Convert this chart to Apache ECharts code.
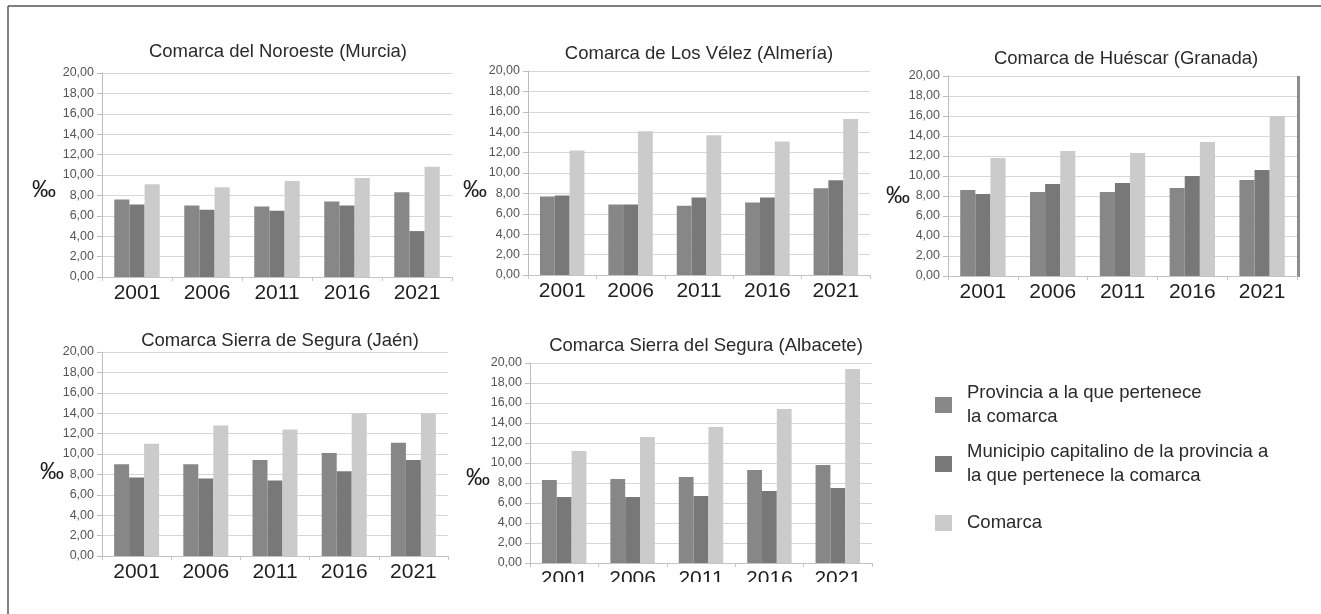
<!DOCTYPE html>
<html>
<head>
<meta charset="utf-8">
<script src="https://cdn.jsdelivr.net/npm/echarts@6/dist/echarts.min.js"></script>
<style>
  html, body { margin: 0; padding: 0; background: #fff; }
  #chart { width: 1321px; height: 614px; }
</style>
</head>
<body>
<div id="chart"></div>
<script>
const years = ['2001', '2006', '2011', '2016', '2021'];
const seriesNames = [
    'Provincia a la que pertenece la comarca',
    'Municipio capitalino de la provincia a la que pertenece la comarca',
    'Comarca'
];
const titles = [
    'Comarca del Noroeste (Murcia)',
    'Comarca de Los Vélez (Almería)',
    'Comarca de Huéscar (Granada)',
    'Comarca Sierra de Segura (Jaén)',
    'Comarca Sierra del Segura (Albacete)'
];

// provincia, capital, comarca for each panel
const murciaProv = [7.6, 7.0, 6.9, 7.4, 8.3];
const murciaCap = [7.1, 6.6, 6.5, 7.0, 4.5];
const murciaCom = [9.1, 8.8, 9.4, 9.7, 10.8];

const almeriaProv = [7.7, 6.9, 6.8, 7.1, 8.5];
const almeriaCap = [7.8, 6.9, 7.6, 7.6, 9.3];
const almeriaCom = [12.2, 14.1, 13.7, 13.1, 15.3];

const granadaProv = [8.6, 8.4, 8.4, 8.8, 9.6];
const granadaCap = [8.2, 9.2, 9.3, 10.0, 10.6];
const granadaCom = [11.8, 12.5, 12.3, 13.4, 16.0];

const jaenProv = [9.0, 9.0, 9.4, 10.1, 11.1];
const jaenCap = [7.7, 7.6, 7.4, 8.3, 9.4];
const jaenCom = [11.0, 12.8, 12.4, 14.0, 14.0];

const albaceteProv = [8.3, 8.4, 8.6, 9.3, 9.8];
const albaceteCap = [6.6, 6.6, 6.7, 7.2, 7.5];
const albaceteCom = [11.2, 12.6, 13.6, 15.4, 19.4];

const panels = [
    [murciaProv, murciaCap, murciaCom],
    [almeriaProv, almeriaCap, almeriaCom],
    [granadaProv, granadaCap, granadaCom],
    [jaenProv, jaenCap, jaenCom],
    [albaceteProv, albaceteCap, albaceteCom]
];

const colors = ['#878787', '#787878', '#cbcbcb'];

const grids = [
    { left: 102, top: 73, width: 350, height: 204 },
    { left: 528, top: 71, width: 342, height: 204 },
    { left: 948, top: 76, width: 349, height: 200 },
    { left: 102, top: 352, width: 346, height: 204 },
    { left: 530, top: 363, width: 342, height: 200 }
];
const titlePos = [[273, 37], [694, 39], [1121, 44], [275, 326], [701, 331]];
const permilPos = [[44, 190], [475, 190], [898, 196], [52, 472], [478, 478]];

const fmt = v => v.toFixed(2).replace('.', ',');

const chart = echarts.init(document.getElementById('chart'));

const series = [];
panels.forEach((vals, i) => {
    vals.forEach((data, s) => {
        series.push({
            name: seriesNames[s],
            type: 'bar',
            xAxisIndex: i,
            yAxisIndex: i,
            data: data,
            barGap: '0%',
            barCategoryGap: '35%',
            itemStyle: { color: colors[s] },
            emphasis: { disabled: true }
        });
    });
});

const legendLabels = {
    'Provincia a la que pertenece la comarca': 'Provincia a la que pertenece\nla comarca',
    'Municipio capitalino de la provincia a la que pertenece la comarca': 'Municipio capitalino de la provincia a\nla que pertenece la comarca',
    'Comarca': 'Comarca'
};
const legendTops = [381, 440, 511];

chart.setOption({
    animation: false,
    textStyle: { fontFamily: 'Liberation Sans, Arial, sans-serif' },
    title: titles.map((t, i) => ({
        text: t,
        left: titlePos[i][0],
        top: titlePos[i][1],
        textAlign: 'center',
        textStyle: { fontSize: 18.5, fontWeight: 'normal', color: '#2a2a2a' }
    })),
    legend: seriesNames.map((n, i) => ({
        data: [n],
        orient: 'vertical',
        left: 935,
        top: legendTops[i],
        padding: 0,
        itemWidth: 17,
        itemHeight: 16,
        icon: 'rect',
        itemGap: 0,
        selectedMode: false,
        formatter: name => legendLabels[name],
        textStyle: { fontSize: 18.5, lineHeight: 24, color: '#2a2a2a', padding: [0, 0, 0, 10] }
    })),
    grid: grids,
    xAxis: grids.map((g, i) => ({
        type: 'category',
        gridIndex: i,
        data: years,
        axisLine: { lineStyle: { color: '#c4c4c4' } },
        axisTick: { show: true, length: 4, lineStyle: { color: '#c4c4c4' } },
        axisLabel: { fontSize: 21, color: '#1e1e1e', margin: 6 }
    })),
    yAxis: grids.map((g, i) => ({
        type: 'value',
        gridIndex: i,
        min: 0,
        max: 20,
        interval: 2,
        axisLine: { show: true, lineStyle: { color: '#bdbdbd' } },
        axisTick: { show: true, length: 5, lineStyle: { color: '#bdbdbd' } },
        splitLine: { lineStyle: { color: '#d6d6d6' } },
        axisLabel: { fontSize: 12.5, color: '#555', margin: 8, formatter: fmt }
    })),
    series: series,
    graphic: [
        { type: 'line', shape: { x1: 8, y1: 6, x2: 1321, y2: 6 }, style: { stroke: '#555', lineWidth: 1.5 } },
        { type: 'line', shape: { x1: 8, y1: 6, x2: 8, y2: 614 }, style: { stroke: '#555', lineWidth: 1.5 } },
        { type: 'rect', shape: { x: 1297, y: 76, width: 3, height: 201 }, style: { fill: '#8c8c8c' } },
        { type: 'rect', z: 100, shape: { x: 520, y: 582, width: 360, height: 32 }, style: { fill: '#fff' } }
    ].concat(permilPos.map(p => ({
        type: 'text',
        x: p[0],
        y: p[1],
        style: {
            text: '‰',
            fontSize: 24,
            fontFamily: 'Liberation Sans, Arial, sans-serif',
            fill: '#1e1e1e',
            align: 'center',
            verticalAlign: 'middle'
        }
    })))
});
</script>
</body>
</html>
